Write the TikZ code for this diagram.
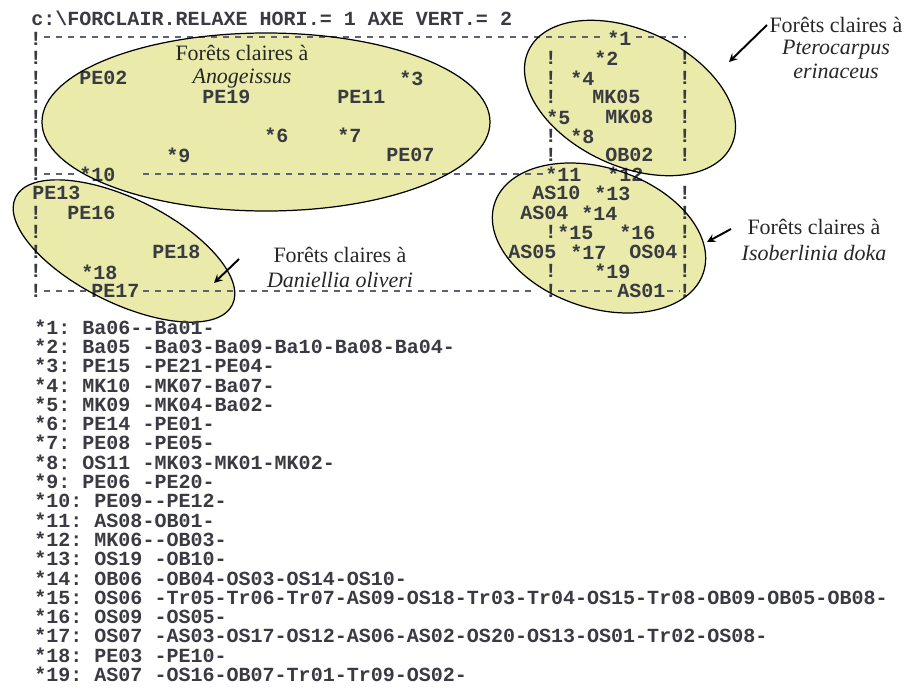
\documentclass[tikz,border=0pt]{standalone}
\usepackage{fontspec}
\setmainfont{Liberation Serif}
\setmonofont{Liberation Mono}
\usetikzlibrary{arrows}
\definecolor{forestfill}{RGB}{234,235,170}
\definecolor{printgray}{RGB}{58,58,66}
\definecolor{dashgray}{RGB}{95,95,118}

\begin{document}
\begin{tikzpicture}[x=0.02cm, y=-0.02cm, >=stealth,
    lbl/.style={font=\ttfamily\bfseries\fontsize{11.4}{12}\selectfont, text=printgray, inner sep=0pt, anchor=west},
    bar/.style={lbl, anchor=center},
    axis/.style={dashgray, line width=0.6pt, dash pattern=on 3.4pt off 3.4pt},
    caption/.style={font=\fontsize{12.5}{14}\selectfont, text=black!85, inner sep=0pt, anchor=base},
    pointer/.style={->, line width=1.1pt}]

  \useasboundingbox (0,0) rectangle (920,687);

  % the four groups of forest
  \foreach \cx/\cy/\a/\b/\r in {266/122/224/89/0, 630/98/112/68/-25, 599/238/110/70/-18.5, 124/251/121/52/-26.4}
    \fill[forestfill, shift={(\cx,\cy)}, rotate=\r] (0,0) ellipse [x radius=\a, y radius=\b];

  % header
  \node[lbl] (head) at (31,18) {c:\textbackslash FORCLAIR.RELAXE HORI.= 1 AXE VERT.= 2};

  % frame of the plot
  \draw[axis] (44,37) -- (603,37);
  \draw[axis] (636,37) -- (686,37);
  \draw[axis] (44,174) -- (78,174);
  \draw[axis] (143,174) -- (543,174);
  \draw[axis] (44,291) -- (90,291);
  \draw[axis] (143,291) -- (531,291);
  \draw[axis] (558,291) -- (615,291);
  \draw[axis] (667,291) -- (679,291);
  \foreach \y in {39,58,78,97,117,136,155,174,213,232,252,271,291}
    \node[bar] (left\y) at (36,\y) {!};
  \foreach \y in {58,78,97,117,136,155,193,213,232,252,271,291}
    \node[bar] (right\y) at (685,\y) {!};
  \foreach \y in {58,78,97,136,155,232,271,291}
    \node[bar] (mid\y) at (551,\y) {!};

  % points of the plot
  \node[lbl] (pe02) at (79,78) {PE02};
  \node[lbl] (pe19) at (202,97) {PE19};
  \node[lbl] (pe11) at (337,97) {PE11};
  \node[lbl] (s3) at (399,78) {*3};
  \node[lbl] (s6) at (264,135) {*6};
  \node[lbl] (s7) at (337,135) {*7};
  \node[lbl] (s9) at (166,155) {*9};
  \node[lbl] (pe07) at (386,155) {PE07};
  \node[lbl] (s10) at (79,174) {*10};
  \node[lbl] (pe13) at (32,193) {PE13};
  \node[lbl] (pe16) at (67,213) {PE16};
  \node[lbl] (pe18) at (152,252) {PE18};
  \node[lbl] (s18) at (81,272) {*18};
  \node[lbl] (pe17) at (91,291) {PE17};
  \node[lbl] (s1) at (607,38) {*1};
  \node[lbl] (s2) at (594,58) {*2};
  \node[lbl] (s4) at (570,78) {*4};
  \node[lbl] (mk05) at (592,97) {MK05};
  \node[lbl] (s5) at (546,117) {*5};
  \node[lbl] (mk08) at (605,117) {MK08};
  \node[lbl] (s8) at (570,136) {*8};
  \node[lbl] (ob02) at (605,155) {OB02};
  \node[lbl] (s11) at (545,174) {*11};
  \node[lbl] (s12) at (607,174) {*12};
  \node[lbl] (as10) at (532,193) {AS10};
  \node[lbl] (s13) at (594,193) {*13};
  \node[lbl] (as04) at (520,213) {AS04};
  \node[lbl] (s14) at (581,213) {*14};
  \node[lbl] (s15) at (557,232) {*15};
  \node[lbl] (s16) at (619,232) {*16};
  \node[lbl] (as05) at (508,252) {AS05};
  \node[lbl] (s17) at (570,252) {*17};
  \node[lbl] (os04) at (629,252) {OS04};
  \node[lbl] (s19) at (594,271) {*19};
  \node[lbl] (as01) at (617,291) {AS01};

  % outlines over the print
  \foreach \cx/\cy/\a/\b/\r in {266/122/224/89/0, 630/98/112/68/-25, 599/238/110/70/-18.5, 124/251/121/52/-26.4}
    \draw[line width=0.7pt, shift={(\cx,\cy)}, rotate=\r] (0,0) ellipse [x radius=\a, y radius=\b];

  % captions
  \node[caption] (ano1) at (242,60) {Forêts claires à};
  \node[caption] (ano2) at (242,83) {\itshape Anogeissus};
  \node[caption] (pte1) at (836,32) {Forêts claires à};
  \node[caption] (pte2) at (836,54) {\itshape Pterocarpus};
  \node[caption] (pte3) at (836,78) {\itshape erinaceus};
  \node[caption] (dan1) at (340,262) {Forêts claires à};
  \node[caption] (dan2) at (340,287) {\itshape Daniellia oliveri};
  \node[caption] (iso1) at (814,234) {Forêts claires à};
  \node[caption] (iso2) at (814,260) {\itshape Isoberlinia doka};

  \coordinate (pteTail) at (767,25);
  \coordinate (pteTip) at (729,62);
  \coordinate (danTail) at (239,259);
  \coordinate (danTip) at (214,283);
  \coordinate (isoTail) at (731,229);
  \coordinate (isoTip) at (707,242);
  \draw[pointer] (pteTail) -- (pteTip);
  \draw[pointer] (danTail) -- (danTip);
  \draw[pointer] (isoTail) -- (isoTip);

  % list of the grouped releves
  \foreach \k/\txt in {1/{*1: Ba06--Ba01-}, 2/{*2: Ba05 -Ba03-Ba09-Ba10-Ba08-Ba04-},
      3/{*3: PE15 -PE21-PE04-}, 4/{*4: MK10 -MK07-Ba07-}, 5/{*5: MK09 -MK04-Ba02-},
      6/{*6: PE14 -PE01-}, 7/{*7: PE08 -PE05-}, 8/{*8: OS11 -MK03-MK01-MK02-},
      9/{*9: PE06 -PE20-}, 10/{*10: PE09--PE12-}, 11/{*11: AS08-OB01-},
      12/{*12: MK06--OB03-}, 13/{*13: OS19 -OB10-}, 14/{*14: OB06 -OB04-OS03-OS14-OS10-},
      15/{*15: OS06 -Tr05-Tr06-Tr07-AS09-OS18-Tr03-Tr04-OS15-Tr08-OB09-OB05-OB08-},
      16/{*16: OS09 -OS05-}, 17/{*17: OS07 -AS03-OS17-OS12-AS06-AS02-OS20-OS13-OS01-Tr02-OS08-},
      18/{*18: PE03 -PE10-}, 19/{*19: AS07 -OS16-OB07-Tr01-Tr09-OS02-}}
    \node[lbl] (row\k) at (34,{327+19.3*(\k-1)}) {\txt};

\end{tikzpicture}
\end{document}
